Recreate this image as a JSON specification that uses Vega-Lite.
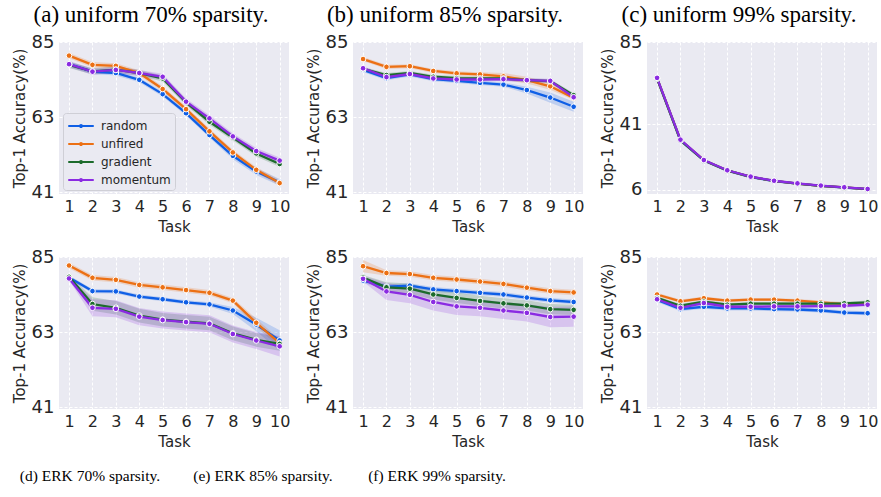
{
  "$schema": "https://vega.github.io/schema/vega-lite/v6.json",
  "padding": {"left": 12, "top": 4, "right": 0, "bottom": 5},
  "config": {
    "font": "DejaVu Sans",
    "view": {"fill": "#EAEAF2", "stroke": null},
    "axis": {"grid": true, "gridColor": "white", "gridDash": [3, 2], "gridWidth": 1, "domain": false, "ticks": false, "labelFontSize": 18, "labelColor": "#262626", "titleFontSize": 15, "titleFontWeight": "normal", "titleColor": "#262626", "labelPadding": 5, "titlePadding": 4},
    "axisX": {"labelFontSize": 16, "labelPadding": 4, "titlePadding": 5},
    "title": {"font": "Liberation Serif", "fontWeight": "normal", "color": "black"},
    "legend": {"labelFontSize": 12, "labelColor": "#262626", "fillColor": "#EAEAF2", "strokeColor": "#cfcfd6", "cornerRadius": 3, "padding": 4, "rowPadding": 3, "symbolType": "M-1.7,0H1.7M0.12,0A0.12,0.12,0,1,1,-0.12,0A0.12,0.12,0,1,1,0.12,0", "symbolSize": 225, "symbolStrokeWidth": 2.2, "symbolOpacity": 1, "symbolOffset": 5, "labelOffset": 11, "title": null}
  },
  "datasets": {
    "acc": [
      {"p":"a","s":"random","t":1,"y":78.6,"lo":77.9,"hi":79.3},{"p":"a","s":"random","t":2,"y":76.4,"lo":75.7,"hi":77.1},{"p":"a","s":"random","t":3,"y":76.0,"lo":75.3,"hi":76.7},{"p":"a","s":"random","t":4,"y":74.0,"lo":73.3,"hi":74.7},{"p":"a","s":"random","t":5,"y":69.8,"lo":69.1,"hi":70.5},{"p":"a","s":"random","t":6,"y":64.2,"lo":63.5,"hi":64.9},{"p":"a","s":"random","t":7,"y":57.8,"lo":57.1,"hi":58.5},{"p":"a","s":"random","t":8,"y":51.7,"lo":50.7,"hi":52.7},{"p":"a","s":"random","t":9,"y":47.1,"lo":46.1,"hi":48.1},{"p":"a","s":"random","t":10,"y":43.9,"lo":42.9,"hi":44.9},
      {"p":"a","s":"unfired","t":1,"y":81.1,"lo":80.3,"hi":81.9},{"p":"a","s":"unfired","t":2,"y":78.4,"lo":77.6,"hi":79.2},{"p":"a","s":"unfired","t":3,"y":78.1,"lo":77.3,"hi":78.9},{"p":"a","s":"unfired","t":4,"y":76.0,"lo":75.2,"hi":76.8},{"p":"a","s":"unfired","t":5,"y":71.3,"lo":70.5,"hi":72.1},{"p":"a","s":"unfired","t":6,"y":65.4,"lo":64.6,"hi":66.2},{"p":"a","s":"unfired","t":7,"y":58.9,"lo":58.1,"hi":59.7},{"p":"a","s":"unfired","t":8,"y":52.7,"lo":51.9,"hi":53.5},{"p":"a","s":"unfired","t":9,"y":47.6,"lo":46.8,"hi":48.4},{"p":"a","s":"unfired","t":10,"y":43.7,"lo":42.9,"hi":44.5},
      {"p":"a","s":"gradient","t":1,"y":78.4,"lo":77.5,"hi":79.3},{"p":"a","s":"gradient","t":2,"y":76.5,"lo":75.6,"hi":77.4},{"p":"a","s":"gradient","t":3,"y":77.0,"lo":76.1,"hi":77.9},{"p":"a","s":"gradient","t":4,"y":76.0,"lo":75.1,"hi":76.9},{"p":"a","s":"gradient","t":5,"y":74.4,"lo":73.5,"hi":75.3},{"p":"a","s":"gradient","t":6,"y":67.4,"lo":66.5,"hi":68.3},{"p":"a","s":"gradient","t":7,"y":61.7,"lo":60.8,"hi":62.6},{"p":"a","s":"gradient","t":8,"y":57.1,"lo":56.2,"hi":58.0},{"p":"a","s":"gradient","t":9,"y":52.4,"lo":51.5,"hi":53.3},{"p":"a","s":"gradient","t":10,"y":49.3,"lo":48.4,"hi":50.2},
      {"p":"a","s":"momentum","t":1,"y":78.6,"lo":77.7,"hi":79.5},{"p":"a","s":"momentum","t":2,"y":76.4,"lo":75.5,"hi":77.3},{"p":"a","s":"momentum","t":3,"y":76.9,"lo":76.0,"hi":77.8},{"p":"a","s":"momentum","t":4,"y":76.0,"lo":75.1,"hi":76.9},{"p":"a","s":"momentum","t":5,"y":74.9,"lo":74.0,"hi":75.8},{"p":"a","s":"momentum","t":6,"y":67.6,"lo":66.7,"hi":68.5},{"p":"a","s":"momentum","t":7,"y":62.7,"lo":61.8,"hi":63.6},{"p":"a","s":"momentum","t":8,"y":57.4,"lo":56.5,"hi":58.3},{"p":"a","s":"momentum","t":9,"y":53.1,"lo":52.2,"hi":54.0},{"p":"a","s":"momentum","t":10,"y":50.3,"lo":49.4,"hi":51.2},

      {"p":"b","s":"random","t":1,"y":76.9,"lo":76.3,"hi":77.5},{"p":"b","s":"random","t":2,"y":74.5,"lo":73.9,"hi":75.1},{"p":"b","s":"random","t":3,"y":75.6,"lo":75.0,"hi":76.2},{"p":"b","s":"random","t":4,"y":74.2,"lo":73.6,"hi":74.8},{"p":"b","s":"random","t":5,"y":73.7,"lo":73.1,"hi":74.3},{"p":"b","s":"random","t":6,"y":73.1,"lo":72.5,"hi":73.7},{"p":"b","s":"random","t":7,"y":72.6,"lo":72.0,"hi":73.2},{"p":"b","s":"random","t":8,"y":71.0,"lo":70.0,"hi":72.0},{"p":"b","s":"random","t":9,"y":68.8,"lo":67.3,"hi":70.3},{"p":"b","s":"random","t":10,"y":66.1,"lo":64.6,"hi":67.6},
      {"p":"b","s":"unfired","t":1,"y":80.1,"lo":79.5,"hi":80.7},{"p":"b","s":"unfired","t":2,"y":77.8,"lo":77.2,"hi":78.4},{"p":"b","s":"unfired","t":3,"y":78.0,"lo":77.4,"hi":78.6},{"p":"b","s":"unfired","t":4,"y":76.6,"lo":76.0,"hi":77.2},{"p":"b","s":"unfired","t":5,"y":75.9,"lo":75.3,"hi":76.5},{"p":"b","s":"unfired","t":6,"y":75.6,"lo":75.0,"hi":76.2},{"p":"b","s":"unfired","t":7,"y":75.0,"lo":74.0,"hi":76.0},{"p":"b","s":"unfired","t":8,"y":73.9,"lo":72.9,"hi":74.9},{"p":"b","s":"unfired","t":9,"y":72.1,"lo":71.1,"hi":73.1},{"p":"b","s":"unfired","t":10,"y":68.7,"lo":68.1,"hi":69.3},
      {"p":"b","s":"gradient","t":1,"y":77.2,"lo":76.6,"hi":77.8},{"p":"b","s":"gradient","t":2,"y":75.4,"lo":74.8,"hi":76.0},{"p":"b","s":"gradient","t":3,"y":76.0,"lo":75.4,"hi":76.6},{"p":"b","s":"gradient","t":4,"y":74.9,"lo":74.3,"hi":75.5},{"p":"b","s":"gradient","t":5,"y":74.5,"lo":73.9,"hi":75.1},{"p":"b","s":"gradient","t":6,"y":74.4,"lo":73.8,"hi":75.0},{"p":"b","s":"gradient","t":7,"y":74.4,"lo":73.8,"hi":75.0},{"p":"b","s":"gradient","t":8,"y":73.9,"lo":73.3,"hi":74.5},{"p":"b","s":"gradient","t":9,"y":73.6,"lo":73.0,"hi":74.2},{"p":"b","s":"gradient","t":10,"y":69.5,"lo":68.9,"hi":70.1},
      {"p":"b","s":"momentum","t":1,"y":77.4,"lo":76.8,"hi":78.0},{"p":"b","s":"momentum","t":2,"y":74.8,"lo":74.2,"hi":75.4},{"p":"b","s":"momentum","t":3,"y":75.7,"lo":75.1,"hi":76.3},{"p":"b","s":"momentum","t":4,"y":74.4,"lo":73.8,"hi":75.0},{"p":"b","s":"momentum","t":5,"y":74.1,"lo":73.5,"hi":74.7},{"p":"b","s":"momentum","t":6,"y":74.1,"lo":73.5,"hi":74.7},{"p":"b","s":"momentum","t":7,"y":74.2,"lo":73.6,"hi":74.8},{"p":"b","s":"momentum","t":8,"y":73.9,"lo":73.3,"hi":74.5},{"p":"b","s":"momentum","t":9,"y":73.7,"lo":73.1,"hi":74.3},{"p":"b","s":"momentum","t":10,"y":68.9,"lo":68.3,"hi":69.5},

      {"p":"c","s":"random","t":1,"y":65.5,"lo":65.2,"hi":65.8},{"p":"c","s":"random","t":2,"y":32.3,"lo":32.0,"hi":32.6},{"p":"c","s":"random","t":3,"y":21.6,"lo":21.3,"hi":21.9},{"p":"c","s":"random","t":4,"y":16.2,"lo":15.9,"hi":16.5},{"p":"c","s":"random","t":5,"y":12.8,"lo":12.5,"hi":13.1},{"p":"c","s":"random","t":6,"y":10.6,"lo":10.3,"hi":10.9},{"p":"c","s":"random","t":7,"y":9.2,"lo":8.9,"hi":9.5},{"p":"c","s":"random","t":8,"y":8.0,"lo":7.7,"hi":8.3},{"p":"c","s":"random","t":9,"y":7.1,"lo":6.8,"hi":7.4},{"p":"c","s":"random","t":10,"y":6.3,"lo":6.0,"hi":6.6},
      {"p":"c","s":"unfired","t":1,"y":65.7,"lo":65.4,"hi":66.0},{"p":"c","s":"unfired","t":2,"y":32.6,"lo":32.3,"hi":32.9},{"p":"c","s":"unfired","t":3,"y":21.8,"lo":21.5,"hi":22.1},{"p":"c","s":"unfired","t":4,"y":16.3,"lo":16.0,"hi":16.6},{"p":"c","s":"unfired","t":5,"y":12.9,"lo":12.6,"hi":13.2},{"p":"c","s":"unfired","t":6,"y":10.7,"lo":10.4,"hi":11.0},{"p":"c","s":"unfired","t":7,"y":9.3,"lo":9.0,"hi":9.6},{"p":"c","s":"unfired","t":8,"y":8.1,"lo":7.8,"hi":8.4},{"p":"c","s":"unfired","t":9,"y":7.2,"lo":6.9,"hi":7.5},{"p":"c","s":"unfired","t":10,"y":6.3,"lo":6.0,"hi":6.6},
      {"p":"c","s":"gradient","t":1,"y":65.6,"lo":65.3,"hi":65.9},{"p":"c","s":"gradient","t":2,"y":32.5,"lo":32.2,"hi":32.8},{"p":"c","s":"gradient","t":3,"y":21.7,"lo":21.4,"hi":22.0},{"p":"c","s":"gradient","t":4,"y":16.3,"lo":16.0,"hi":16.6},{"p":"c","s":"gradient","t":5,"y":12.9,"lo":12.6,"hi":13.2},{"p":"c","s":"gradient","t":6,"y":10.7,"lo":10.4,"hi":11.0},{"p":"c","s":"gradient","t":7,"y":9.3,"lo":9.0,"hi":9.6},{"p":"c","s":"gradient","t":8,"y":8.1,"lo":7.8,"hi":8.4},{"p":"c","s":"gradient","t":9,"y":7.2,"lo":6.9,"hi":7.5},{"p":"c","s":"gradient","t":10,"y":6.3,"lo":6.0,"hi":6.6},
      {"p":"c","s":"momentum","t":1,"y":65.9,"lo":65.6,"hi":66.2},{"p":"c","s":"momentum","t":2,"y":32.8,"lo":32.5,"hi":33.1},{"p":"c","s":"momentum","t":3,"y":21.9,"lo":21.6,"hi":22.2},{"p":"c","s":"momentum","t":4,"y":16.4,"lo":16.1,"hi":16.7},{"p":"c","s":"momentum","t":5,"y":13.0,"lo":12.7,"hi":13.3},{"p":"c","s":"momentum","t":6,"y":10.8,"lo":10.5,"hi":11.1},{"p":"c","s":"momentum","t":7,"y":9.4,"lo":9.1,"hi":9.7},{"p":"c","s":"momentum","t":8,"y":8.2,"lo":7.9,"hi":8.5},{"p":"c","s":"momentum","t":9,"y":7.3,"lo":7.0,"hi":7.6},{"p":"c","s":"momentum","t":10,"y":6.4,"lo":6.1,"hi":6.7},

      {"p":"d","s":"random","t":1,"y":79.1,"lo":78.5,"hi":79.7},{"p":"d","s":"random","t":2,"y":75.1,"lo":74.5,"hi":75.7},{"p":"d","s":"random","t":3,"y":75.0,"lo":74.4,"hi":75.6},{"p":"d","s":"random","t":4,"y":73.5,"lo":72.9,"hi":74.1},{"p":"d","s":"random","t":5,"y":72.7,"lo":72.1,"hi":73.3},{"p":"d","s":"random","t":6,"y":71.8,"lo":71.2,"hi":72.4},{"p":"d","s":"random","t":7,"y":71.2,"lo":70.6,"hi":71.8},{"p":"d","s":"random","t":8,"y":69.4,"lo":68.4,"hi":70.4},{"p":"d","s":"random","t":9,"y":65.3,"lo":63.3,"hi":67.3},{"p":"d","s":"random","t":10,"y":60.6,"lo":57.6,"hi":63.6},
      {"p":"d","s":"unfired","t":1,"y":82.6,"lo":81.8,"hi":83.4},{"p":"d","s":"unfired","t":2,"y":79.0,"lo":78.2,"hi":79.8},{"p":"d","s":"unfired","t":3,"y":78.4,"lo":77.6,"hi":79.2},{"p":"d","s":"unfired","t":4,"y":76.9,"lo":76.1,"hi":77.7},{"p":"d","s":"unfired","t":5,"y":76.2,"lo":75.4,"hi":77.0},{"p":"d","s":"unfired","t":6,"y":75.4,"lo":74.6,"hi":76.2},{"p":"d","s":"unfired","t":7,"y":74.6,"lo":73.8,"hi":75.4},{"p":"d","s":"unfired","t":8,"y":72.3,"lo":71.5,"hi":73.1},{"p":"d","s":"unfired","t":9,"y":65.8,"lo":64.6,"hi":67.0},{"p":"d","s":"unfired","t":10,"y":59.8,"lo":58.6,"hi":61.0},
      {"p":"d","s":"gradient","t":1,"y":79.3,"lo":78.8,"hi":79.8},{"p":"d","s":"gradient","t":2,"y":71.3,"lo":69.3,"hi":73.3},{"p":"d","s":"gradient","t":3,"y":70.2,"lo":68.2,"hi":72.2},{"p":"d","s":"gradient","t":4,"y":67.9,"lo":65.9,"hi":69.9},{"p":"d","s":"gradient","t":5,"y":66.7,"lo":64.7,"hi":68.7},{"p":"d","s":"gradient","t":6,"y":66.1,"lo":64.1,"hi":68.1},{"p":"d","s":"gradient","t":7,"y":65.6,"lo":63.6,"hi":67.6},{"p":"d","s":"gradient","t":8,"y":62.7,"lo":60.7,"hi":64.7},{"p":"d","s":"gradient","t":9,"y":60.8,"lo":58.8,"hi":62.8},{"p":"d","s":"gradient","t":10,"y":59.6,"lo":57.6,"hi":61.6},
      {"p":"d","s":"momentum","t":1,"y":78.8,"lo":78.3,"hi":79.3},{"p":"d","s":"momentum","t":2,"y":70.2,"lo":67.7,"hi":72.7},{"p":"d","s":"momentum","t":3,"y":69.9,"lo":67.4,"hi":72.4},{"p":"d","s":"momentum","t":4,"y":67.6,"lo":65.1,"hi":70.1},{"p":"d","s":"momentum","t":5,"y":66.6,"lo":64.1,"hi":69.1},{"p":"d","s":"momentum","t":6,"y":66.0,"lo":63.5,"hi":68.5},{"p":"d","s":"momentum","t":7,"y":65.5,"lo":63.0,"hi":68.0},{"p":"d","s":"momentum","t":8,"y":62.5,"lo":60.0,"hi":65.0},{"p":"d","s":"momentum","t":9,"y":60.6,"lo":58.1,"hi":63.1},{"p":"d","s":"momentum","t":10,"y":58.9,"lo":55.9,"hi":61.9},

      {"p":"e","s":"random","t":1,"y":78.2,"lo":77.5,"hi":78.9},{"p":"e","s":"random","t":2,"y":76.4,"lo":75.7,"hi":77.1},{"p":"e","s":"random","t":3,"y":76.7,"lo":76.0,"hi":77.4},{"p":"e","s":"random","t":4,"y":75.6,"lo":74.9,"hi":76.3},{"p":"e","s":"random","t":5,"y":75.1,"lo":74.4,"hi":75.8},{"p":"e","s":"random","t":6,"y":74.6,"lo":73.9,"hi":75.3},{"p":"e","s":"random","t":7,"y":74.1,"lo":73.4,"hi":74.8},{"p":"e","s":"random","t":8,"y":73.2,"lo":72.5,"hi":73.9},{"p":"e","s":"random","t":9,"y":72.4,"lo":71.7,"hi":73.1},{"p":"e","s":"random","t":10,"y":71.9,"lo":71.2,"hi":72.6},
      {"p":"e","s":"unfired","t":1,"y":82.4,"lo":80.6,"hi":84.2},{"p":"e","s":"unfired","t":2,"y":80.4,"lo":79.6,"hi":81.2},{"p":"e","s":"unfired","t":3,"y":80.1,"lo":79.3,"hi":80.9},{"p":"e","s":"unfired","t":4,"y":79.0,"lo":78.2,"hi":79.8},{"p":"e","s":"unfired","t":5,"y":78.5,"lo":77.7,"hi":79.3},{"p":"e","s":"unfired","t":6,"y":77.9,"lo":77.1,"hi":78.7},{"p":"e","s":"unfired","t":7,"y":77.2,"lo":76.4,"hi":78.0},{"p":"e","s":"unfired","t":8,"y":76.1,"lo":75.3,"hi":76.9},{"p":"e","s":"unfired","t":9,"y":75.1,"lo":74.3,"hi":75.9},{"p":"e","s":"unfired","t":10,"y":74.7,"lo":73.9,"hi":75.5},
      {"p":"e","s":"gradient","t":1,"y":79.1,"lo":78.4,"hi":79.8},{"p":"e","s":"gradient","t":2,"y":76.2,"lo":74.7,"hi":77.7},{"p":"e","s":"gradient","t":3,"y":75.8,"lo":74.3,"hi":77.3},{"p":"e","s":"gradient","t":4,"y":74.1,"lo":72.6,"hi":75.6},{"p":"e","s":"gradient","t":5,"y":73.1,"lo":71.6,"hi":74.6},{"p":"e","s":"gradient","t":6,"y":72.2,"lo":70.7,"hi":73.7},{"p":"e","s":"gradient","t":7,"y":71.5,"lo":70.0,"hi":73.0},{"p":"e","s":"gradient","t":8,"y":70.9,"lo":69.4,"hi":72.4},{"p":"e","s":"gradient","t":9,"y":69.8,"lo":68.3,"hi":71.3},{"p":"e","s":"gradient","t":10,"y":69.6,"lo":68.1,"hi":71.1},
      {"p":"e","s":"momentum","t":1,"y":78.7,"lo":77.9,"hi":79.5},{"p":"e","s":"momentum","t":2,"y":75.0,"lo":72.5,"hi":77.5},{"p":"e","s":"momentum","t":3,"y":74.0,"lo":71.5,"hi":76.5},{"p":"e","s":"momentum","t":4,"y":71.9,"lo":69.4,"hi":74.4},{"p":"e","s":"momentum","t":5,"y":70.6,"lo":68.1,"hi":73.1},{"p":"e","s":"momentum","t":6,"y":70.2,"lo":67.7,"hi":72.7},{"p":"e","s":"momentum","t":7,"y":69.4,"lo":66.9,"hi":71.9},{"p":"e","s":"momentum","t":8,"y":68.7,"lo":66.2,"hi":71.2},{"p":"e","s":"momentum","t":9,"y":67.5,"lo":64.5,"hi":70.5},{"p":"e","s":"momentum","t":10,"y":67.6,"lo":64.6,"hi":70.6},

      {"p":"f","s":"random","t":1,"y":72.5,"lo":71.9,"hi":73.1},{"p":"f","s":"random","t":2,"y":69.8,"lo":69.2,"hi":70.4},{"p":"f","s":"random","t":3,"y":70.5,"lo":69.9,"hi":71.1},{"p":"f","s":"random","t":4,"y":70.0,"lo":69.4,"hi":70.6},{"p":"f","s":"random","t":5,"y":70.0,"lo":69.4,"hi":70.6},{"p":"f","s":"random","t":6,"y":69.8,"lo":69.2,"hi":70.4},{"p":"f","s":"random","t":7,"y":69.7,"lo":69.1,"hi":70.3},{"p":"f","s":"random","t":8,"y":69.4,"lo":68.8,"hi":70.0},{"p":"f","s":"random","t":9,"y":68.8,"lo":68.2,"hi":69.4},{"p":"f","s":"random","t":10,"y":68.6,"lo":68.0,"hi":69.2},
      {"p":"f","s":"unfired","t":1,"y":74.1,"lo":73.6,"hi":74.6},{"p":"f","s":"unfired","t":2,"y":72.1,"lo":71.6,"hi":72.6},{"p":"f","s":"unfired","t":3,"y":73.0,"lo":72.5,"hi":73.5},{"p":"f","s":"unfired","t":4,"y":72.3,"lo":71.8,"hi":72.8},{"p":"f","s":"unfired","t":5,"y":72.6,"lo":72.1,"hi":73.1},{"p":"f","s":"unfired","t":6,"y":72.6,"lo":72.1,"hi":73.1},{"p":"f","s":"unfired","t":7,"y":72.3,"lo":71.8,"hi":72.8},{"p":"f","s":"unfired","t":8,"y":71.8,"lo":71.3,"hi":72.3},{"p":"f","s":"unfired","t":9,"y":71.3,"lo":70.8,"hi":71.8},{"p":"f","s":"unfired","t":10,"y":71.5,"lo":71.0,"hi":72.0},
      {"p":"f","s":"gradient","t":1,"y":73.1,"lo":72.6,"hi":73.6},{"p":"f","s":"gradient","t":2,"y":70.8,"lo":70.3,"hi":71.3},{"p":"f","s":"gradient","t":3,"y":72.0,"lo":71.5,"hi":72.5},{"p":"f","s":"gradient","t":4,"y":71.1,"lo":70.6,"hi":71.6},{"p":"f","s":"gradient","t":5,"y":71.4,"lo":70.9,"hi":71.9},{"p":"f","s":"gradient","t":6,"y":71.4,"lo":70.9,"hi":71.9},{"p":"f","s":"gradient","t":7,"y":71.4,"lo":70.9,"hi":71.9},{"p":"f","s":"gradient","t":8,"y":71.4,"lo":70.9,"hi":71.9},{"p":"f","s":"gradient","t":9,"y":71.5,"lo":71.0,"hi":72.0},{"p":"f","s":"gradient","t":10,"y":71.8,"lo":71.3,"hi":72.3},
      {"p":"f","s":"momentum","t":1,"y":72.7,"lo":72.2,"hi":73.2},{"p":"f","s":"momentum","t":2,"y":70.2,"lo":69.7,"hi":70.7},{"p":"f","s":"momentum","t":3,"y":71.6,"lo":71.1,"hi":72.1},{"p":"f","s":"momentum","t":4,"y":70.5,"lo":70.0,"hi":71.0},{"p":"f","s":"momentum","t":5,"y":70.5,"lo":70.0,"hi":71.0},{"p":"f","s":"momentum","t":6,"y":70.6,"lo":70.1,"hi":71.1},{"p":"f","s":"momentum","t":7,"y":70.6,"lo":70.1,"hi":71.1},{"p":"f","s":"momentum","t":8,"y":70.7,"lo":70.2,"hi":71.2},{"p":"f","s":"momentum","t":9,"y":70.8,"lo":70.3,"hi":71.3},{"p":"f","s":"momentum","t":10,"y":71.1,"lo":70.6,"hi":71.6}
    ]
  },
  "resolve": {"scale": {"color": "independent"}, "legend": {"color": "independent"}},
  "spacing": 14,
  "vconcat": [
    {
      "bounds": "flush",
      "spacing": 64,
      "resolve": {"scale": {"color": "independent"}, "legend": {"color": "independent"}},
      "hconcat": [
        {
          "width": 230, "height": 152,
          "title": {"text": "(a) uniform 70% sparsity.", "fontSize": 23, "frame": "bounds", "anchor": "middle", "offset": 6},
          "data": {"name": "acc"},
          "transform": [{"filter": "datum.p == 'a'"}],
          "encoding": {
            "x": {"field": "t", "type": "quantitative", "scale": {"domain": [0.57, 10.4], "nice": false, "zero": false}, "axis": {"values": [1,2,3,4,5,6,7,8,9,10], "title": "Task"}},
            "color": {"field": "s", "type": "nominal", "sort": ["random","unfired","gradient","momentum"], "scale": {"domain": ["random","unfired","gradient","momentum"], "range": ["#0f5fe6","#ec7014","#1c6b2c","#8b2be2"]}, "legend": {"orient": "bottom-left", "offset": 4}}
          },
          "layer": [
            {"mark": {"type": "area", "opacity": 0.2}, "encoding": {"y": {"field": "lo", "type": "quantitative", "scale": {"domain": [40.5, 85.1], "nice": false, "zero": false}, "axis": {"values": [41, 63, 85], "title": "Top-1 Accuracy(%)"}}, "y2": {"field": "hi"}}},
            {"mark": {"type": "line", "strokeWidth": 2.3}, "encoding": {"y": {"field": "y", "type": "quantitative", "axis": {"values": [41, 63, 85], "title": "Top-1 Accuracy(%)"}}}},
            {"mark": {"type": "point", "filled": true, "size": 32, "stroke": "white", "strokeWidth": 1, "opacity": 1}, "encoding": {"y": {"field": "y", "type": "quantitative", "axis": {"values": [41, 63, 85], "title": "Top-1 Accuracy(%)"}}}}
          ]
        },
        {
          "width": 230, "height": 152,
          "title": {"text": "(b) uniform 85% sparsity.", "fontSize": 23, "frame": "bounds", "anchor": "middle", "offset": 6},
          "data": {"name": "acc"},
          "transform": [{"filter": "datum.p == 'b'"}],
          "encoding": {
            "x": {"field": "t", "type": "quantitative", "scale": {"domain": [0.57, 10.4], "nice": false, "zero": false}, "axis": {"values": [1,2,3,4,5,6,7,8,9,10], "title": "Task"}},
            "color": {"field": "s", "type": "nominal", "scale": {"domain": ["random","unfired","gradient","momentum"], "range": ["#0f5fe6","#ec7014","#1c6b2c","#8b2be2"]}, "legend": null}
          },
          "layer": [
            {"mark": {"type": "area", "opacity": 0.2}, "encoding": {"y": {"field": "lo", "type": "quantitative", "scale": {"domain": [40.5, 85.1], "nice": false, "zero": false}, "axis": {"values": [41, 63, 85], "title": "Top-1 Accuracy(%)"}}, "y2": {"field": "hi"}}},
            {"mark": {"type": "line", "strokeWidth": 2.3}, "encoding": {"y": {"field": "y", "type": "quantitative", "axis": {"values": [41, 63, 85], "title": "Top-1 Accuracy(%)"}}}},
            {"mark": {"type": "point", "filled": true, "size": 32, "stroke": "white", "strokeWidth": 1, "opacity": 1}, "encoding": {"y": {"field": "y", "type": "quantitative", "axis": {"values": [41, 63, 85], "title": "Top-1 Accuracy(%)"}}}}
          ]
        },
        {
          "width": 230, "height": 152,
          "title": {"text": "(c) uniform 99% sparsity.", "fontSize": 23, "frame": "bounds", "anchor": "middle", "offset": 6},
          "data": {"name": "acc"},
          "transform": [{"filter": "datum.p == 'c'"}],
          "encoding": {
            "x": {"field": "t", "type": "quantitative", "scale": {"domain": [0.57, 10.4], "nice": false, "zero": false}, "axis": {"values": [1,2,3,4,5,6,7,8,9,10], "title": "Task"}},
            "color": {"field": "s", "type": "nominal", "scale": {"domain": ["random","unfired","gradient","momentum"], "range": ["#0f5fe6","#ec7014","#1c6b2c","#8b2be2"]}, "legend": null}
          },
          "layer": [
            {"mark": {"type": "area", "opacity": 0.2}, "encoding": {"y": {"field": "lo", "type": "quantitative", "scale": {"domain": [3.7, 85.1], "nice": false, "zero": false}, "axis": {"values": [6, 41, 85], "title": "Top-1 Accuracy(%)"}}, "y2": {"field": "hi"}}},
            {"mark": {"type": "line", "strokeWidth": 2.3}, "encoding": {"y": {"field": "y", "type": "quantitative", "axis": {"values": [6, 41, 85], "title": "Top-1 Accuracy(%)"}}}},
            {"mark": {"type": "point", "filled": true, "size": 32, "stroke": "white", "strokeWidth": 1, "opacity": 1}, "encoding": {"y": {"field": "y", "type": "quantitative", "axis": {"values": [6, 41, 85], "title": "Top-1 Accuracy(%)"}}}}
          ]
        }
      ]
    },
    {
      "bounds": "flush",
      "spacing": 64,
      "resolve": {"scale": {"color": "independent"}, "legend": {"color": "independent"}},
      "hconcat": [
        {
          "width": 230, "height": 152,
          "title": {"text": "(d) ERK 70% sparsity.", "fontSize": 15.5, "orient": "bottom", "frame": "bounds", "anchor": "middle", "offset": 20, "dx": -61},
          "data": {"name": "acc"},
          "transform": [{"filter": "datum.p == 'd'"}],
          "encoding": {
            "x": {"field": "t", "type": "quantitative", "scale": {"domain": [0.57, 10.4], "nice": false, "zero": false}, "axis": {"values": [1,2,3,4,5,6,7,8,9,10], "title": "Task"}},
            "color": {"field": "s", "type": "nominal", "scale": {"domain": ["random","unfired","gradient","momentum"], "range": ["#0f5fe6","#ec7014","#1c6b2c","#8b2be2"]}, "legend": null}
          },
          "layer": [
            {"mark": {"type": "area", "opacity": 0.2}, "encoding": {"y": {"field": "lo", "type": "quantitative", "scale": {"domain": [40.5, 85.1], "nice": false, "zero": false}, "axis": {"values": [41, 63, 85], "title": "Top-1 Accuracy(%)"}}, "y2": {"field": "hi"}}},
            {"mark": {"type": "line", "strokeWidth": 2.3}, "encoding": {"y": {"field": "y", "type": "quantitative", "axis": {"values": [41, 63, 85], "title": "Top-1 Accuracy(%)"}}}},
            {"mark": {"type": "point", "filled": true, "size": 32, "stroke": "white", "strokeWidth": 1, "opacity": 1}, "encoding": {"y": {"field": "y", "type": "quantitative", "axis": {"values": [41, 63, 85], "title": "Top-1 Accuracy(%)"}}}}
          ]
        },
        {
          "width": 230, "height": 152,
          "title": {"text": "(e) ERK 85% sparsity.", "fontSize": 15.5, "orient": "bottom", "frame": "bounds", "anchor": "middle", "offset": 20, "dx": -182},
          "data": {"name": "acc"},
          "transform": [{"filter": "datum.p == 'e'"}],
          "encoding": {
            "x": {"field": "t", "type": "quantitative", "scale": {"domain": [0.57, 10.4], "nice": false, "zero": false}, "axis": {"values": [1,2,3,4,5,6,7,8,9,10], "title": "Task"}},
            "color": {"field": "s", "type": "nominal", "scale": {"domain": ["random","unfired","gradient","momentum"], "range": ["#0f5fe6","#ec7014","#1c6b2c","#8b2be2"]}, "legend": null}
          },
          "layer": [
            {"mark": {"type": "area", "opacity": 0.2}, "encoding": {"y": {"field": "lo", "type": "quantitative", "scale": {"domain": [40.5, 85.1], "nice": false, "zero": false}, "axis": {"values": [41, 63, 85], "title": "Top-1 Accuracy(%)"}}, "y2": {"field": "hi"}}},
            {"mark": {"type": "line", "strokeWidth": 2.3}, "encoding": {"y": {"field": "y", "type": "quantitative", "axis": {"values": [41, 63, 85], "title": "Top-1 Accuracy(%)"}}}},
            {"mark": {"type": "point", "filled": true, "size": 32, "stroke": "white", "strokeWidth": 1, "opacity": 1}, "encoding": {"y": {"field": "y", "type": "quantitative", "axis": {"values": [41, 63, 85], "title": "Top-1 Accuracy(%)"}}}}
          ]
        },
        {
          "width": 230, "height": 152,
          "title": {"text": "(f) ERK 99% sparsity.", "fontSize": 15.5, "orient": "bottom", "frame": "bounds", "anchor": "middle", "offset": 20, "dx": -302},
          "data": {"name": "acc"},
          "transform": [{"filter": "datum.p == 'f'"}],
          "encoding": {
            "x": {"field": "t", "type": "quantitative", "scale": {"domain": [0.57, 10.4], "nice": false, "zero": false}, "axis": {"values": [1,2,3,4,5,6,7,8,9,10], "title": "Task"}},
            "color": {"field": "s", "type": "nominal", "scale": {"domain": ["random","unfired","gradient","momentum"], "range": ["#0f5fe6","#ec7014","#1c6b2c","#8b2be2"]}, "legend": null}
          },
          "layer": [
            {"mark": {"type": "area", "opacity": 0.2}, "encoding": {"y": {"field": "lo", "type": "quantitative", "scale": {"domain": [40.5, 85.1], "nice": false, "zero": false}, "axis": {"values": [41, 63, 85], "title": "Top-1 Accuracy(%)"}}, "y2": {"field": "hi"}}},
            {"mark": {"type": "line", "strokeWidth": 2.3}, "encoding": {"y": {"field": "y", "type": "quantitative", "axis": {"values": [41, 63, 85], "title": "Top-1 Accuracy(%)"}}}},
            {"mark": {"type": "point", "filled": true, "size": 32, "stroke": "white", "strokeWidth": 1, "opacity": 1}, "encoding": {"y": {"field": "y", "type": "quantitative", "axis": {"values": [41, 63, 85], "title": "Top-1 Accuracy(%)"}}}}
          ]
        }
      ]
    }
  ]
}
